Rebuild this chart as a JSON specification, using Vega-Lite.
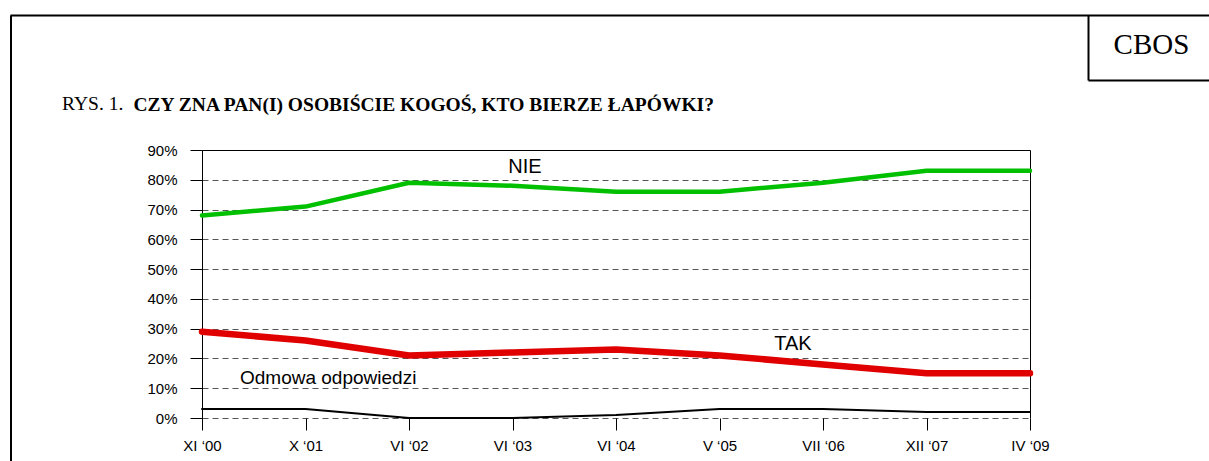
{
  "$schema": "https://vega.github.io/schema/vega-lite/v6.json",
  "width": 1199,
  "height": 446,
  "autosize": {"type": "none"},
  "padding": {"left": 10, "top": 15, "right": 0, "bottom": 0},
  "background": "white",
  "config": {"view": {"stroke": null}},
  "layer": [
    {
      "layer": [
        {
          "data": {"values": [
            {"okres": "XI ‘00", "seria": "NIE", "wartosc": 68},
            {"okres": "X ‘01", "seria": "NIE", "wartosc": 71},
            {"okres": "VI ‘02", "seria": "NIE", "wartosc": 79},
            {"okres": "VI ‘03", "seria": "NIE", "wartosc": 78},
            {"okres": "VI ‘04", "seria": "NIE", "wartosc": 76},
            {"okres": "V ‘05", "seria": "NIE", "wartosc": 76},
            {"okres": "VII ‘06", "seria": "NIE", "wartosc": 79},
            {"okres": "XII ‘07", "seria": "NIE", "wartosc": 83},
            {"okres": "IV ‘09", "seria": "NIE", "wartosc": 83},
            {"okres": "XI ‘00", "seria": "TAK", "wartosc": 29},
            {"okres": "X ‘01", "seria": "TAK", "wartosc": 26},
            {"okres": "VI ‘02", "seria": "TAK", "wartosc": 21},
            {"okres": "VI ‘03", "seria": "TAK", "wartosc": 22},
            {"okres": "VI ‘04", "seria": "TAK", "wartosc": 23},
            {"okres": "V ‘05", "seria": "TAK", "wartosc": 21},
            {"okres": "VII ‘06", "seria": "TAK", "wartosc": 18},
            {"okres": "XII ‘07", "seria": "TAK", "wartosc": 15},
            {"okres": "IV ‘09", "seria": "TAK", "wartosc": 15},
            {"okres": "XI ‘00", "seria": "Odmowa", "wartosc": 3},
            {"okres": "X ‘01", "seria": "Odmowa", "wartosc": 3},
            {"okres": "VI ‘02", "seria": "Odmowa", "wartosc": 0},
            {"okres": "VI ‘03", "seria": "Odmowa", "wartosc": 0},
            {"okres": "VI ‘04", "seria": "Odmowa", "wartosc": 1},
            {"okres": "V ‘05", "seria": "Odmowa", "wartosc": 3},
            {"okres": "VII ‘06", "seria": "Odmowa", "wartosc": 3},
            {"okres": "XII ‘07", "seria": "Odmowa", "wartosc": 2},
            {"okres": "IV ‘09", "seria": "Odmowa", "wartosc": 2}
          ]},
          "layer": [
            {
              "transform": [{"filter": "datum.seria === 'Odmowa'"}],
              "mark": {"type": "line", "strokeCap": "round", "strokeJoin": "round", "color": "#000000", "strokeWidth": 2},
              "encoding": {
                "x": {
                  "field": "okres", "type": "ordinal",
                  "sort": ["XI ‘00", "X ‘01", "VI ‘02", "VI ‘03", "VI ‘04", "V ‘05", "VII ‘06", "XII ‘07", "IV ‘09"],
                  "scale": {"type": "point", "domain": ["XI ‘00", "X ‘01", "VI ‘02", "VI ‘03", "VI ‘04", "V ‘05", "VII ‘06", "XII ‘07", "IV ‘09"], "range": [192, 1020], "padding": 0},
                  "axis": {"orient": "bottom", "offset": -43, "domain": false, "ticks": true, "tickSize": 12, "tickColor": "black", "tickWidth": 1, "labels": true, "labelFont": "Liberation Sans", "labelFontSize": 15, "labelColor": "black", "labelPadding": 8, "labelAngle": 0, "grid": false, "title": null}
                },
                "y": {
                  "field": "wartosc", "type": "quantitative",
                  "scale": {"domain": [0, 90], "range": [403, 135], "nice": false, "zero": false},
                  "axis": {"orient": "left", "offset": -192, "domain": true, "domainColor": "black", "domainWidth": 1, "ticks": true, "tickSize": 12, "tickColor": "black", "tickWidth": 1, "values": [0, 10, 20, 30, 40, 50, 60, 70, 80, 90], "labels": true, "labelExpr": "datum.value + '%'", "labelFont": "Liberation Sans", "labelFontSize": 15, "labelColor": "black", "labelPadding": 13, "grid": true, "gridDash": [6, 4], "gridColor": "#555555", "gridWidth": 1, "title": null}
                }
              }
            },
            {
              "transform": [{"filter": "datum.seria === 'NIE'"}],
              "mark": {"type": "line", "strokeCap": "round", "strokeJoin": "round", "color": "#00C000", "strokeWidth": 4.5},
              "encoding": {
                "x": {"field": "okres", "type": "ordinal", "sort": ["XI ‘00", "X ‘01", "VI ‘02", "VI ‘03", "VI ‘04", "V ‘05", "VII ‘06", "XII ‘07", "IV ‘09"], "axis": null},
                "y": {"field": "wartosc", "type": "quantitative", "axis": null}
              }
            },
            {
              "transform": [{"filter": "datum.seria === 'TAK'"}],
              "mark": {"type": "line", "strokeCap": "round", "strokeJoin": "round", "color": "#E00000", "strokeWidth": 6.5},
              "encoding": {
                "x": {"field": "okres", "type": "ordinal", "sort": ["XI ‘00", "X ‘01", "VI ‘02", "VI ‘03", "VI ‘04", "V ‘05", "VII ‘06", "XII ‘07", "IV ‘09"], "axis": null},
                "y": {"field": "wartosc", "type": "quantitative", "axis": null}
              }
            }
          ],
          "resolve": {"axis": {"x": "independent", "y": "independent"}}
        },
        {
          "data": {"values": [{"etykieta": "NIE"}]},
          "mark": {"type": "text", "font": "Liberation Sans", "fontSize": 20, "align": "center", "baseline": "alphabetic", "dx": 12.5, "color": "black"},
          "encoding": {
            "text": {"field": "etykieta"},
            "x": {"datum": "VI ‘03", "type": "ordinal", "axis": {"orient": "top", "offset": -135, "domain": true, "domainColor": "black", "domainWidth": 1, "ticks": false, "labels": false, "grid": false, "title": "CZY ZNA PAN(I) OSOBIŚCIE KOGOŚ, KTO BIERZE ŁAPÓWKI?", "titleX": 123, "titleY": -40, "titleAlign": "left", "titleBaseline": "alphabetic", "titleFont": "Liberation Serif", "titleFontSize": 19.5, "titleFontWeight": "bold", "titleColor": "black", "titleAngle": 0}},
            "y": {"datum": 82.4, "type": "quantitative", "axis": {"orient": "right", "offset": -179, "domain": true, "domainColor": "black", "domainWidth": 1, "ticks": false, "labels": false, "grid": false, "title": null}}
          }
        },
        {
          "data": {"values": [{"etykieta": "TAK"}]},
          "mark": {"type": "text", "font": "Liberation Sans", "fontSize": 20, "align": "center", "baseline": "alphabetic", "dx": -30, "color": "black"},
          "encoding": {
            "text": {"field": "etykieta"},
            "x": {"datum": "VII ‘06", "type": "ordinal", "axis": null},
            "y": {"datum": 22.8, "type": "quantitative", "axis": null}
          }
        },
        {
          "data": {"values": [{"etykieta": "Odmowa odpowiedzi"}]},
          "mark": {"type": "text", "font": "Liberation Sans", "fontSize": 19, "align": "left", "baseline": "alphabetic", "dx": 38, "color": "black"},
          "encoding": {
            "text": {"field": "etykieta"},
            "x": {"datum": "XI ‘00", "type": "ordinal", "axis": null},
            "y": {"datum": 11.3, "type": "quantitative", "axis": null}
          }
        }
      ],
      "resolve": {"axis": {"x": "independent", "y": "independent"}}
    },
    {
      "layer": [
        {
          "data": {"values": [{"etykieta": "CBOS"}]},
          "mark": {"type": "text", "font": "Liberation Serif", "fontSize": 29, "align": "center", "baseline": "middle", "color": "black"},
          "encoding": {
            "text": {"field": "etykieta"},
            "x": {"datum": 0.952, "type": "quantitative", "scale": {"domain": [0, 1], "range": [0, 1199], "nice": false, "zero": false},
              "axis": {"orient": "top", "offset": 0, "domain": true, "domainColor": "black", "domainWidth": 2, "ticks": true, "values": [0.899], "tickSize": -65, "tickWidth": 2, "tickColor": "black", "labels": false, "grid": false, "title": null}},
            "y": {"datum": 0.9327, "type": "quantitative", "scale": {"domain": [0, 1], "range": [446, 0], "nice": false, "zero": false},
              "axis": {"orient": "left", "offset": -0.5, "domain": true, "domainColor": "black", "domainWidth": 2, "ticks": false, "labels": false, "grid": false, "title": null}}
          }
        },
        {
          "data": {"values": [{"etykieta": "RYS. 1."}]},
          "mark": {"type": "text", "font": "Liberation Serif", "fontSize": 19.5, "align": "left", "baseline": "alphabetic", "color": "black"},
          "encoding": {
            "text": {"field": "etykieta"},
            "x": {"datum": 0.0434, "type": "quantitative", "axis": null},
            "y": {"datum": 0.787, "type": "quantitative", "axis": {"orient": "right", "offset": 0, "domain": false, "ticks": true, "values": [0.8543], "tickSize": -121, "tickWidth": 2, "tickColor": "black", "labels": false, "grid": false, "title": null}}
          }
        }
      ],
      "resolve": {"axis": {"x": "independent", "y": "independent"}}
    }
  ],
  "resolve": {"scale": {"x": "independent", "y": "independent"}, "axis": {"x": "independent", "y": "independent"}}
}
